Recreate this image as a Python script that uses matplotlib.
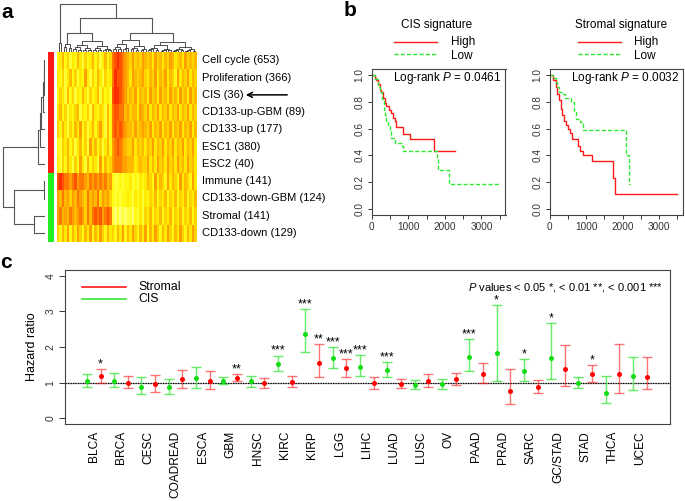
import numpy as np
import matplotlib
matplotlib.use("Agg")
import matplotlib.pyplot as plt
from matplotlib.colors import LinearSegmentedColormap

plt.rcParams['font.family'] = ['Liberation Sans', 'DejaVu Sans']
plt.rcParams['mathtext.fontset'] = 'custom'
plt.rcParams['mathtext.rm'] = 'Liberation Sans'
plt.rcParams['mathtext.it'] = 'Liberation Sans:italic'

# ---------------- data ----------------
# panel a: signature heatmap (0 = yellow ... 9 = red), rows top to bottom
signatures = ['Cell cycle', 'Proliferation', 'CIS', 'CD133-up-GBM', 'CD133-up', 'ESC1',
              'ESC2', 'Immune', 'CD133-down-GBM', 'Stromal', 'CD133-down']
sig_sizes = [653, 366, 36, 89, 177, 380, 40, 141, 124, 141, 129]
sig_group = ['up'] * 7 + ['down'] * 4
heat_rows = [
    "2352413253142352413524" + "78987" + "65464546" + "545364535465345364545",
    "3241352413263142531423" + "79887" + "65365456" + "435463546354263546354",
    "2431524132531423514231" + "89987" + "64546354" + "536453645364536453645",
    "3524132451324153243152" + "78877" + "56455365" + "463546354635463546354",
    "4253142536241352463152" + "78787" + "65546456" + "546354635463546354635",
    "2143524135241635241352" + "67876" + "54463545" + "354635463546354635463",
    "3142531426315243162534" + "67776" + "65553454" + "463536453645364536453",
    "8987767867765767676756" + "21121" + "22312132" + "354263542635426354263",
    "6575646576547565746564" + "21212" + "23213231" + "324352435243524352435",
    "6756576567647578786787" + "10101" + "01102131" + "435243524352435243524",
    "4253625364253625364253" + "42536" + "25364253" + "625364253642536425364",
]
# row dendrogram merges (left, right, height), scipy-style numbering
row_links = [(0, 1, 0.6), (11, 2, 1.3), (12, 3, 2.5), (13, 4, 3.6), (14, 5, 5.0),
             (15, 6, 7.0), (7, 8, 1.0), (9, 10, 11.0), (17, 18, 31.0), (16, 19, 42.0)]
# column dendrogram: (height, left, right); int pairs are leaf ranges
col_tree = (48, (9, 0, 2),
            (34, (19, (8, 2, 6), (11, 6, 22)),
                 (19, (12, 22, 36), (10, 36, 56))))

# panel b: Kaplan-Meier curves
cis_high_t = [0, 74, 120, 166, 212, 259, 305, 351, 397, 471, 536, 582, 628, 674, 859, 1043, 1708, 2290]
cis_high_s = [1.0, 0.98, 0.96, 0.93, 0.89, 0.87, 0.83, 0.79, 0.77, 0.74, 0.72, 0.68, 0.66, 0.61, 0.56, 0.52, 0.43, 0.43]
cis_low_t = [0, 74, 166, 231, 286, 323, 351, 397, 443, 489, 536, 628, 812, 859, 1782, 1810, 2105, 3518]
cis_low_s = [1.0, 0.97, 0.91, 0.87, 0.82, 0.74, 0.70, 0.66, 0.62, 0.58, 0.53, 0.49, 0.47, 0.43, 0.37, 0.29, 0.19, 0.19]
str_high_t = [0, 91, 155, 209, 245, 300, 336, 391, 455, 500, 545, 609, 773, 818, 909, 1164, 1727, 1800, 3500]
str_high_s = [1.0, 0.96, 0.91, 0.86, 0.81, 0.75, 0.70, 0.66, 0.63, 0.60, 0.57, 0.52, 0.47, 0.43, 0.40, 0.36, 0.23, 0.11, 0.11]
str_low_t = [0, 91, 155, 209, 245, 364, 409, 591, 664, 727, 818, 909, 2091, 2182, 2200]
str_low_s = [1.0, 0.98, 0.95, 0.91, 0.87, 0.86, 0.83, 0.80, 0.73, 0.67, 0.65, 0.59, 0.40, 0.19, 0.19]

# panel c: hazard ratios
cancers = ['BLCA', 'BRCA', 'CESC', 'COADREAD', 'ESCA', 'GBM', 'HNSC', 'KIRC', 'KIRP', 'LGG', 'LIHC',
           'LUAD', 'LUSC', 'OV', 'PAAD', 'PRAD', 'SARC', 'GC/STAD', 'STAD', 'THCA', 'UCEC']
cis_hr = [1.04, 1.06, 0.89, 0.87, 1.12, 1.04, 1.04, 1.53, 2.37, 1.69, 1.45, 1.36, 0.93, 0.95, 1.71, 1.82, 1.34, 1.70, 0.98, 0.71, 1.18]
cis_lo = [0.87, 0.89, 0.68, 0.69, 0.85, 0.96, 0.88, 1.33, 1.85, 1.40, 1.19, 1.15, 0.81, 0.83, 1.34, 1.06, 1.06, 1.09, 0.85, 0.43, 0.80]
cis_hi = [1.23, 1.26, 1.15, 1.10, 1.43, 1.15, 1.18, 1.76, 3.06, 2.00, 1.77, 1.58, 1.07, 1.09, 2.22, 3.19, 1.66, 2.68, 1.15, 1.18, 1.73]
cis_sig = ['', '', '', '', '', '', '', '***', '***', '***', '***', '***', '', '', '***', '*', '*', '*', '', '', '']
str_hr = [1.18, 0.99, 0.95, 1.10, 1.06, 1.12, 0.99, 1.02, 1.56, 1.40, 0.98, 0.97, 1.04, 1.10, 1.25, 0.76, 0.87, 1.37, 1.25, 1.23, 1.17]
str_lo = [1.00, 0.84, 0.73, 0.85, 0.83, 1.06, 0.84, 0.89, 1.16, 1.17, 0.81, 0.84, 0.89, 0.93, 1.00, 0.40, 0.72, 0.91, 1.02, 0.71, 0.83]
str_hi = [1.39, 1.19, 1.21, 1.36, 1.32, 1.23, 1.14, 1.18, 2.09, 1.65, 1.17, 1.10, 1.23, 1.28, 1.55, 1.39, 1.08, 2.06, 1.50, 2.09, 1.71]
str_sig = ['*', '', '', '', '', '**', '', '', '**', '***', '', '', '', '', '', '', '', '', '*', '', '']

RED = '#FF1A1A'
GREEN = '#33E633'
W, H = 685, 501
fig = plt.figure(figsize=(W / 100, H / 100), dpi=100)


def box(x0, y0, x1, y1):
    return fig.add_axes([x0 / W, 1 - y1 / H, (x1 - x0) / W, (y1 - y0) / H])


# ---------------- panel a ----------------
mat = np.array([[int(c) for c in r] for r in heat_rows])
nrow, ncol = mat.shape
heat = LinearSegmentedColormap.from_list(
    'heat', ['#FFFF70', '#FFFF18', '#FFEA00', '#FFC800', '#FFA000', '#FF6800', '#FF2C00'])
axh = box(57.3, 51.7, 196.7, 241.7)
axh.imshow(mat, cmap=heat, vmin=0, vmax=9, aspect='auto', interpolation='nearest',
           extent=(0, ncol, nrow, 0))
axh.axis('off')

axs = box(47.7, 51.7, 54.3, 241.7)
side = [RED if g == 'up' else '#22EE22' for g in sig_group]
axs.bar(np.zeros(nrow), np.ones(nrow), bottom=np.arange(nrow), width=1, color=side, align='edge')
axs.set_xlim(0, 1)
axs.set_ylim(nrow, 0)
axs.axis('off')

DCOL = '#555555'
axl = box(0, 51.7, 45, 241.7)
pos = {i: (i + 0.5, 0.0) for i in range(nrow)}
for k, (a, b, h) in enumerate(row_links):
    ya, ha = pos[a]
    yb, hb = pos[b]
    axl.plot([ha, h, h, hb], [ya, ya, yb, yb], color=DCOL, lw=0.8)
    pos[nrow + k] = ((ya + yb) / 2, h)
axl.set_xlim(45, 0)
axl.set_ylim(nrow, 0)
axl.axis('off')

axt = box(57.3, 1.7, 196.7, 51.7)


def bush(a, b, h):
    if b - a == 1:
        return a + 0.5, 0.0
    m = a + (b - a + 1) // 2
    xl, hl = bush(a, m, h * 0.62)
    xr, hr = bush(m, b, h * 0.48)
    axt.plot([xl, xl, xr, xr], [hl, h, h, hr], color='#333333', lw=0.6)
    return (xl + xr) / 2, h


def tree(node):
    h, a, b = node
    if isinstance(a, int):
        return bush(a, b, h)
    xa, ha = tree(a)
    xb, hb = tree(b)
    axt.plot([xa, xa, xb, xb], [ha, h, h, hb], color=DCOL, lw=0.8)
    return (xa + xb) / 2, h


tree(col_tree)
axt.set_xlim(0, ncol)
axt.set_ylim(0, 50)
axt.axis('off')

# ---------------- panel b ----------------
def km_panel(rect, hi_t, hi_s, lo_t, lo_s, ptxt):
    ax = box(*rect)
    ax.step(hi_t, hi_s, where='post', color=RED, lw=1.0)
    ax.step(lo_t, lo_s, where='post', color=GREEN, lw=1.0, ls=(0, (3, 1.5)))
    ax.set_xlim(-10, 3660)
    ax.set_ylim(-0.045, 1.045)
    ax.set_xticks(np.arange(0, 3501, 500))
    ax.set_xticklabels(['0', '', '1000', '', '2000', '', '3000', ''])
    ax.set_yticks(np.arange(0, 1.01, 0.2))
    ax.set_yticklabels(['0.0', '0.2', '0.4', '0.6', '0.8', '1.0'], rotation=90, va='center')
    ax.tick_params(labelsize=7.2, length=3, width=0.7, colors='#333333', pad=2)
    for s in ax.spines.values():
        s.set_linewidth(0.8)
        s.set_color('#444444')
    ax.text(0.97, 0.935, ptxt, transform=ax.transAxes, ha='right', va='center', fontsize=8.5)
    return ax


km_panel((371.5, 69, 505.5, 215), cis_high_t, cis_high_s, cis_low_t, cis_low_s,
         'Log-rank $P$ = 0.0461')
km_panel((549.5, 69, 683, 215), str_high_t, str_high_s, str_low_t, str_low_s,
         'Log-rank $P$ = 0.0032')

# ---------------- panel c ----------------
axc = box(65, 270, 670, 424)
xg = np.arange(len(cancers)) * 2 + 1
xr = xg + 1
axc.axhline(1, color='#999999', lw=0.8)
axc.axhline(1, color='black', lw=0.9, ls=(0, (1, 1)))
axc.errorbar(xg, cis_hr, yerr=[np.subtract(cis_hr, cis_lo), np.subtract(cis_hi, cis_hr)],
             fmt='none', ecolor=GREEN, alpha=0.75, elinewidth=1.0, capsize=3.8, capthick=1.0)
axc.errorbar(xr, str_hr, yerr=[np.subtract(str_hr, str_lo), np.subtract(str_hi, str_hr)],
             fmt='none', ecolor=RED, alpha=0.6, elinewidth=1.0, capsize=3.8, capthick=1.0)
axc.plot(xg, cis_hr, 'o', color='#11DD11', ms=3.6, mec='none')
axc.plot(xr, str_hr, 'o', color='#FF0000', ms=3.6, mec='none')
for x, top, s in list(zip(xg, cis_hi, cis_sig)) + list(zip(xr, str_hi, str_sig)):
    if s:
        axc.text(x, top + 0.13, s, ha='center', va='center', fontsize=9)
axc.set_xlim(-0.6, 2 * len(cancers) + 1.7)
axc.set_ylim(-0.16, 4.16)
axc.set_yticks(range(5))
axc.set_yticklabels([str(i) for i in range(5)], rotation=90, va='center')
axc.set_xticks(xg + 0.5)
axc.set_xticklabels(cancers, rotation=90, fontsize=8.6)
axc.tick_params(axis='x', length=0, pad=5)
axc.tick_params(axis='y', labelsize=7.5, length=4, width=0.7, colors='#333333', pad=3)
axc.set_ylabel('Hazard ratio', fontsize=9, labelpad=5)
for s in axc.spines.values():
    s.set_linewidth(0.8)
    s.set_color('#444444')

# ---------------- overlay: panel letters, legends, arrow ----------------
ov = fig.add_axes([0, 0, 1, 1], facecolor='none')
ov.set_xlim(0, W)
ov.set_ylim(H, 0)
ov.axis('off')
ov.text(1, 12, 'a', fontsize=15, fontweight='bold', va='center')
ov.text(344, 10, 'b', fontsize=15, fontweight='bold', va='center')
ov.text(0, 263, 'c', fontsize=15, fontweight='bold', va='center')
for name, n, i in zip(signatures, sig_sizes, range(nrow)):
    ov.text(201.7, 51.7 + 17.27 * (i + 0.5), f'{name} ({n})', fontsize=8.0, va='center')
ov.annotate('', xy=(243, 51.7 + 17.27 * 2.5), xytext=(290, 51.7 + 17.27 * 2.5),
            arrowprops=dict(arrowstyle='->', lw=1.1, color='black', mutation_scale=9))

for cx, title, lx0, lx1, tx in [(437, 'CIS signature', 394, 437, 451),
                                  (621, 'Stromal signature', 578, 621, 634)]:
    ov.text(cx, 25, title, ha='center', va='center', fontsize=8.5)
    ov.plot([lx0, lx1], [42, 42], color=RED, lw=1.0)
    ov.plot([lx0, lx1], [53.5, 53.5], color=GREEN, lw=1.0, ls=(0, (3, 1.5)))
    ov.text(tx, 41.5, 'High', va='center', fontsize=8.5)
    ov.text(tx, 56, 'Low', va='center', fontsize=8.5)

ov.plot([82, 126], [286.7, 286.7], color=RED, lw=1.2)
ov.plot([82, 126], [299.3, 299.3], color=GREEN, lw=1.2)
ov.text(138, 286.7, 'Stromal', va='center', fontsize=8.8)
ov.text(138, 299.3, 'CIS', va='center', fontsize=8.8)
ov.text(663, 287, '$P$ values < 0.05 *, < 0.01 **, < 0.001 ***', ha='right', va='center', fontsize=8)

fig.savefig('out.png', dpi=100)
